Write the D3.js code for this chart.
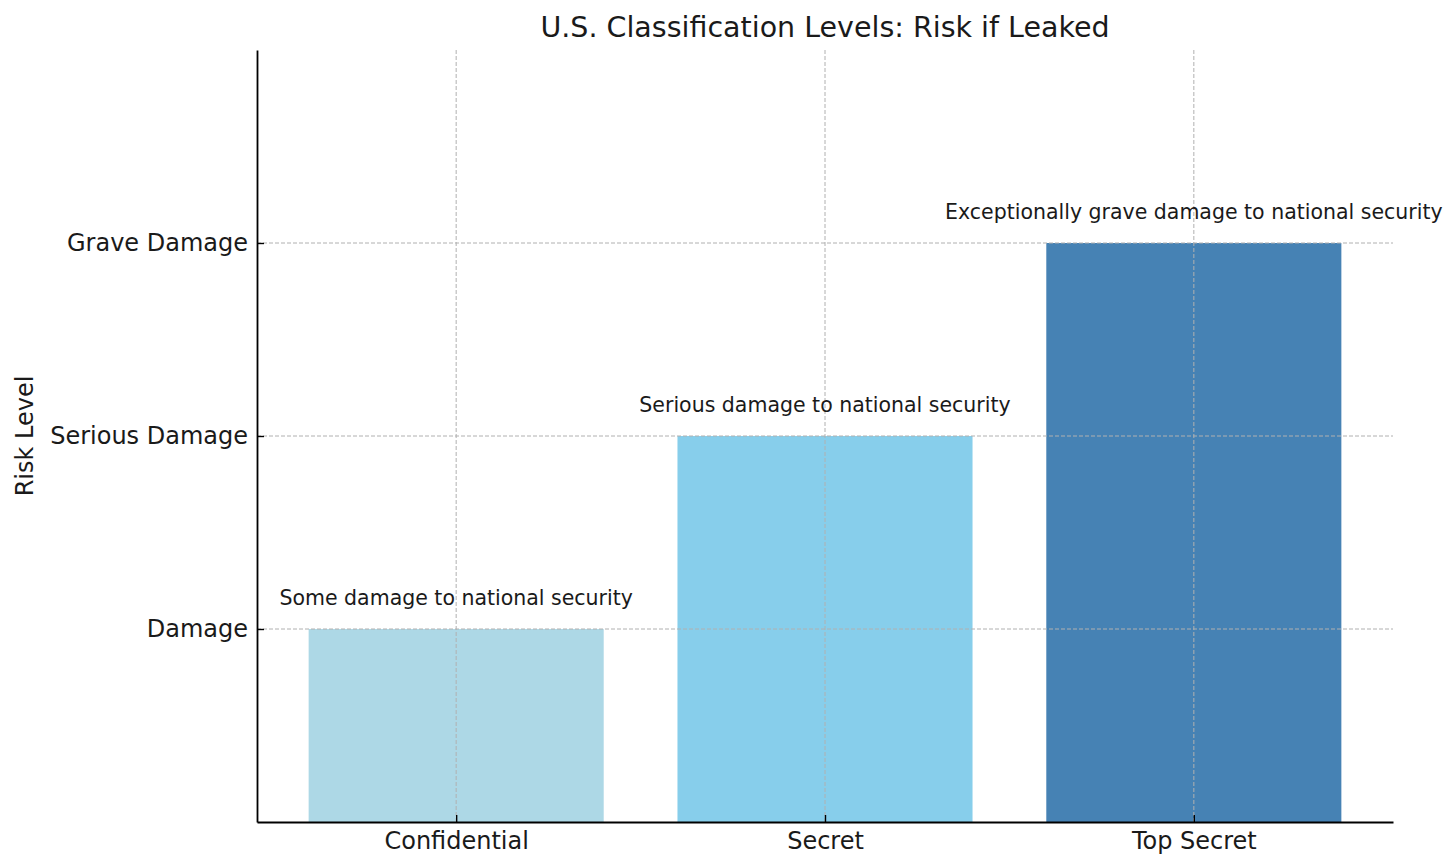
<!DOCTYPE html>
<html>
<head>
<meta charset="utf-8">
<script src="https://cdn.jsdelivr.net/npm/d3@7"></script>
<style>
  body { margin: 0; background: #fff; }
  text { font-family: "DejaVu Sans", sans-serif; fill: #1a1a1a; }
</style>
</head>
<body>
<div id="chart"></div>
<script>
// data
var categories = ["Confidential", "Secret", "Top Secret"];
var riskValues = [1, 2, 3];
var barColors = ["#ADD8E6", "#87CEEB", "#4682B4"];
var notes = [
  "Some damage to national security",
  "Serious damage to national security",
  "Exceptionally grave damage to national security"
];
var yTickValues = [1, 2, 3];
var yTickLabels = ["Damage", "Serious Damage", "Grave Damage"];

var W = 1456, H = 868;
var margin = { top: 50, right: 63, bottom: 46, left: 257 };
var width = W - margin.left - margin.right;
var height = H - margin.top - margin.bottom;

var svg = d3.select("#chart")
  .append("svg")
  .attr("width", W)
  .attr("height", H)
  .append("g")
  .attr("transform", "translate(" + margin.left + "," + margin.top + ")");

// matplotlib-style x: bars at 0,1,2 width 0.8 with 5% margins
var x = d3.scaleLinear().domain([-0.54, 2.54]).range([0, width]);
var y = d3.scaleLinear().domain([0, 4]).range([height, 0]);
var barW = 0.8;

// bars
svg.append("g")
  .selectAll("rect")
  .data(riskValues)
  .enter()
  .append("rect")
  .attr("x", function (d, i) { return x(i - barW / 2); })
  .attr("width", function () { return x(barW) - x(0); })
  .attr("y", function (d) { return y(d); })
  .attr("height", function (d) { return y(0) - y(d); })
  .style("fill", function (d, i) { return barColors[i]; });

// grid (drawn over bars)
var grid = svg.append("g").attr("class", "grid");
grid.selectAll("line.gx")
  .data(categories)
  .enter()
  .append("line")
  .attr("x1", function (d, i) { return x(i); })
  .attr("x2", function (d, i) { return x(i); })
  .attr("y1", 0)
  .attr("y2", height);
grid.selectAll("line.gy")
  .data(yTickValues)
  .enter()
  .append("line")
  .attr("x1", 0)
  .attr("x2", width)
  .attr("y1", function (d) { return y(d); })
  .attr("y2", function (d) { return y(d); });
grid.selectAll("line")
  .style("stroke", "#b0b0b0")
  .style("stroke-width", 1)
  .style("stroke-dasharray", "4,2");

// annotations
svg.append("g")
  .selectAll("text")
  .data(notes)
  .enter()
  .append("text")
  .attr("x", function (d, i) { return x(i); })
  .attr("y", function (d, i) { return y(riskValues[i] + 0.1) - 5; })
  .attr("text-anchor", "middle")
  .style("font-size", "20.5px")
  .text(function (d) { return d; });

// axes
var xAxis = svg.append("g")
  .attr("transform", "translate(0," + height + ")")
  .call(d3.axisBottom(x)
    .tickValues([0, 1, 2])
    .tickFormat(function (d) { return categories[d]; })
    .tickSizeInner(-7)
    .tickSizeOuter(0)
    .tickPadding(10));
var yAxis = svg.append("g")
  .call(d3.axisLeft(y)
    .tickValues(yTickValues)
    .tickFormat(function (d, i) { return yTickLabels[i]; })
    .tickSizeInner(-7)
    .tickSizeOuter(0)
    .tickPadding(9));

[xAxis, yAxis].forEach(function (a) {
  a.select(".domain").style("stroke", "#000").style("stroke-width", 1.8);
  a.selectAll(".tick line").style("stroke", "#000").style("stroke-width", 1.4);
  a.selectAll(".tick text")
    .style("font-size", "24px")
    .style("font-family", "DejaVu Sans, sans-serif")
    .style("fill", "#1a1a1a");
});
xAxis.selectAll(".tick text").attr("dy", "0.71em");

// axis label
svg.append("text")
  .attr("transform", "translate(" + (25 - margin.left) + "," + (height / 2) + ") rotate(-90)")
  .attr("text-anchor", "middle")
  .attr("dy", "0.35em")
  .style("font-size", "24px")
  .text("Risk Level");

// title
svg.append("text")
  .attr("x", width / 2)
  .attr("y", -13)
  .attr("text-anchor", "middle")
  .style("font-size", "28.5px")
  .text("U.S. Classification Levels: Risk if Leaked");
</script>
</body>
</html>
